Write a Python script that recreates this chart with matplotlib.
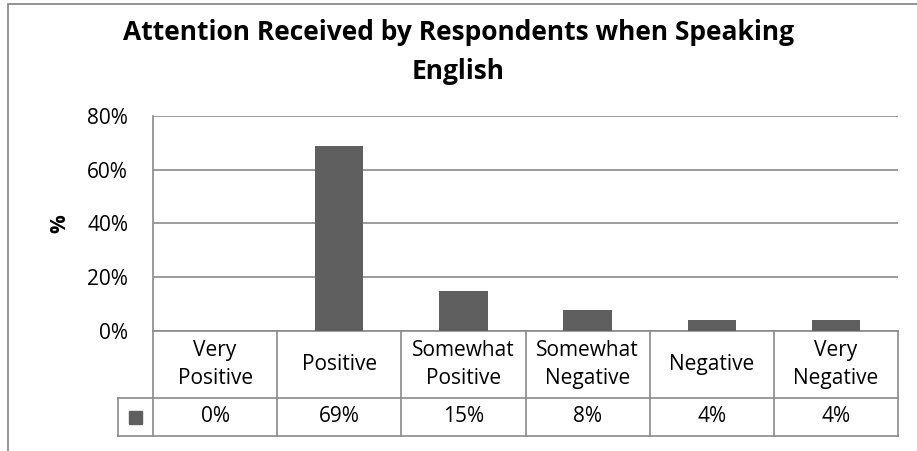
import matplotlib.pyplot as plt
import matplotlib.transforms as mtransforms
from matplotlib.patches import Rectangle

# Survey data
categories = ["Very\nPositive", "Positive", "Somewhat\nPositive",
              "Somewhat\nNegative", "Negative", "Very\nNegative"]
shares = [0, 69, 15, 8, 4, 4]
value_labels = ["0%", "69%", "15%", "8%", "4%", "4%"]
y_ticks = [0, 20, 40, 60, 80]

bar_color = "#5f5f5f"
line_color = "#8a8a8a"
font = "Open Sans"
plt.rcParams["font.family"] = [font, "DejaVu Sans"]

fig = plt.figure(figsize=(9.17, 4.51), dpi=100)
ax = fig.add_axes([153 / 917, 1 - 331 / 451, 745 / 917, 215 / 451])

# outer chart frame
fig.patches.append(Rectangle((8 / 917, -0.2), 1.2, 1.2 - 4 / 451, transform=fig.transFigure,
                             fill=False, edgecolor=line_color, linewidth=1.3))

x = [i + 0.5 for i in range(len(shares))]
ax.bar(x, shares, width=0.39, color=bar_color, zorder=3)

ax.set_xlim(0, len(shares))
ax.set_ylim(0, 80)
ax.set_yticks(y_ticks)
ax.set_yticklabels([f"{t}%" for t in y_ticks], fontsize=15)
ax.tick_params(axis="y", length=0, pad=18)
ax.set_xticks([])
ax.yaxis.grid(True, color=line_color, linewidth=1.2)
ax.set_axisbelow(True)
for side in ["top", "right", "bottom"]:
    ax.spines[side].set_visible(False)
ax.spines["left"].set_color(line_color)
ax.spines["left"].set_linewidth(1.2)
ax.set_ylabel("%", fontsize=15, fontweight="bold", labelpad=12)

fig.text(0.5, 1 - 52 / 451, "Attention Received by Respondents when Speaking\nEnglish",
         ha="center", va="center", fontsize=19, fontweight="bold", linespacing=1.6)

# data table under the plot
trans = mtransforms.blended_transform_factory(ax.transData, ax.transAxes)
cat_bottom = -67 / 215
tab_bottom = -105 / 215
key_left = -35 / 124.2
n = len(shares)
lw = 1.2
kw = dict(color=line_color, linewidth=lw, transform=trans, clip_on=False)
ax.plot([0, n], [0, 0], **kw)
ax.plot([key_left, n], [cat_bottom, cat_bottom], **kw)
ax.plot([key_left, n], [tab_bottom, tab_bottom], **kw)
ax.plot([key_left, key_left], [cat_bottom, tab_bottom], **kw)
for i in range(n + 1):
    ax.plot([i, i], [0, tab_bottom], **kw)

for xi, cat, val in zip(x, categories, value_labels):
    ax.text(xi, cat_bottom / 2, cat, transform=trans, ha="center", va="center",
            fontsize=15, linespacing=1.4)
    ax.text(xi, (cat_bottom + tab_bottom) / 2, val, transform=trans, ha="center",
            va="center", fontsize=15)

# legend key in the first table cell
key_w = 13 / 124.2
key_h = 13 / 215
ax.add_patch(Rectangle((key_left / 2 - key_w / 2, (cat_bottom + tab_bottom) / 2 - key_h / 2),
                       key_w, key_h, transform=trans, color=bar_color, clip_on=False))

fig.savefig("out.png", dpi=100)
